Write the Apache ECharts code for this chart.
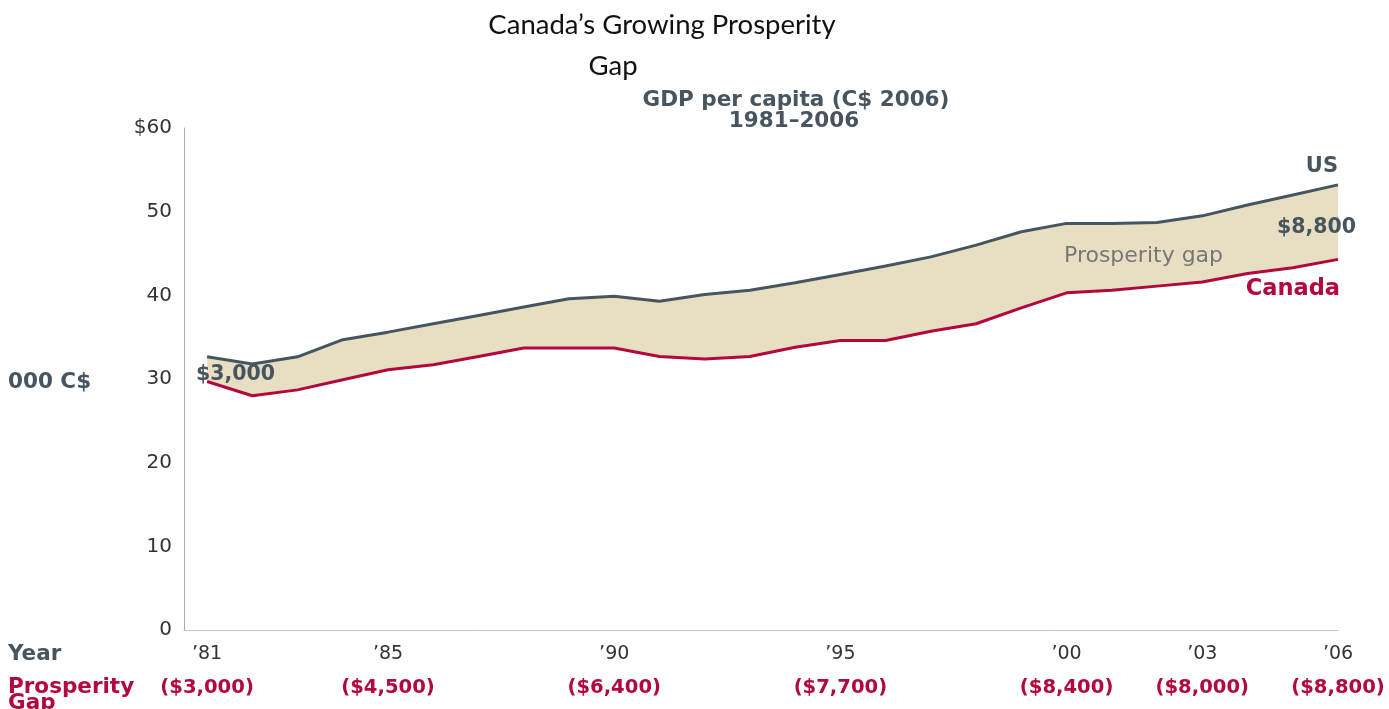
<!DOCTYPE html>
<html>
<head>
<meta charset="utf-8">
<script src="https://cdn.jsdelivr.net/npm/echarts@6/dist/echarts.min.js"></script>
<style>html,body{margin:0;padding:0;background:#fff}#c{width:1389px;height:709px}</style>
</head>
<body>
<div id="c"></div>
<script>
const years = [1981,1982,1983,1984,1985,1986,1987,1988,1989,1990,1991,1992,1993,1994,1995,1996,1997,1998,1999,2000,2001,2002,2003,2004,2005,2006];
const usGdp = [32.65,31.8,32.65,34.7,35.6,36.6,37.6,38.6,39.6,39.9,39.3,40.1,40.6,41.5,42.5,43.5,44.6,46.0,47.6,48.6,48.6,48.7,49.5,50.8,52.0,53.2];
const canadaGdp = [29.7,28.0,28.7,29.9,31.1,31.7,32.7,33.7,33.7,33.7,32.7,32.4,32.7,33.8,34.6,34.6,35.7,36.6,38.5,40.3,40.6,41.1,41.6,42.6,43.3,44.3];
const labelYears = [1981,1985,1990,1995,2000,2003,2006];
const yearTickLabels = ['\u201981','\u201985','\u201990','\u201995','\u201900','\u201903','\u201906'];
const gapTickLabels = ['($3,000)','($4,500)','($6,400)','($7,700)','($8,400)','($8,000)','($8,800)'];

const usData = years.map((y,i)=>[y, usGdp[i]]);
const caData = years.map((y,i)=>[y, canadaGdp[i]]);
const slate = '#46555f', crimson = '#b3083c', beige = '#e8dfc3';
const F = '"DejaVu Sans", Verdana, sans-serif';
const T = 'Lato, "Open Sans", sans-serif';
const lab = (arr)=> v => { const r = Math.round(v); const k = labelYears.indexOf(r); return k>=0 && Math.abs(v-r)<1e-6 ? arr[k] : ''; };

const chart = echarts.init(document.getElementById('c'));
chart.setOption({
  animation:false,
  grid:{left:184,right:51,top:128,bottom:79,containLabel:false},
  title:[
    {text:'Canada\u2019s Growing Prosperity',left:657,top:6,textAlign:'center',textStyle:{fontFamily:T,fontWeight:'normal',fontSize:27.5,color:'#111'}},
    {text:'Gap',left:608,top:47,textAlign:'center',textStyle:{fontFamily:T,fontWeight:'normal',fontSize:27.5,color:'#111'}},
    {text:'GDP per capita (C$ 2006)',left:791,top:84,textAlign:'center',textStyle:{fontFamily:F,fontWeight:'bold',fontSize:21.5,color:slate}},
    {text:'1981\u20132006',left:789,top:105,textAlign:'center',textStyle:{fontFamily:F,fontWeight:'bold',fontSize:21.5,color:slate}}
  ],
  xAxis:[
    {type:'value',min:1980.49,max:2006,z:10,
     axisLine:{show:true,lineStyle:{color:'#c4c4c4',width:1}},axisTick:{show:false},splitLine:{show:false},
     axisLabel:{customValues:labelYears,margin:15,fontFamily:F,fontSize:19,color:'#333',formatter:lab(yearTickLabels)}},
    {type:'value',min:1980.49,max:2006,position:'bottom',offset:33,
     axisLine:{show:false},axisTick:{show:false},splitLine:{show:false},
     axisLabel:{customValues:labelYears,margin:15,fontFamily:F,fontSize:19.6,fontWeight:'bold',color:crimson,formatter:lab(gapTickLabels)}}
  ],
  yAxis:{type:'value',min:0,max:60,interval:10,z:10,
    axisLine:{show:true,lineStyle:{color:'#aaa',width:1}},axisTick:{show:false},splitLine:{show:false},
    axisLabel:{margin:12,fontFamily:F,fontSize:20,color:'#333',formatter:v=> v===60?'$60':String(v)}},
  series:[
    {name:'gapfill',type:'line',data:usData,symbol:'none',lineStyle:{width:0,opacity:0},areaStyle:{color:beige,opacity:1},silent:true,z:2},
    {name:'mask',type:'line',data:caData,symbol:'none',lineStyle:{width:0,opacity:0},areaStyle:{color:'#ffffff',opacity:1},silent:true,z:3},
    {name:'US',type:'line',data:usData,symbol:'none',lineStyle:{color:slate,width:3},z:5},
    {name:'Canada',type:'line',data:caData,symbol:'none',lineStyle:{color:crimson,width:3},z:5}
  ],
  graphic:[
    {type:'text',z:100,left:8,top:371,style:{text:'000 C$',font:'bold 21.5px '+F,fill:slate}},
    {type:'text',z:100,left:8,top:643,style:{text:'Year',font:'bold 21.5px '+F,fill:slate}},
    {type:'text',z:100,left:8,top:676,style:{text:'Prosperity\nGap',font:'bold 21.5px '+F,fill:crimson,lineHeight:16}},
    {type:'text',z:100,left:196,top:364,style:{text:'$3,000',font:'bold 20.5px '+F,fill:slate}},
    {type:'text',z:100,right:51,top:156,style:{text:'US',font:'bold 21px '+F,fill:slate}},
    {type:'text',z:100,right:33,top:217,style:{text:'$8,800',font:'bold 20.5px '+F,fill:slate}},
    {type:'text',z:100,left:1064,top:245,style:{text:'Prosperity gap',font:'22px '+F,fill:'#777'}},
    {type:'text',z:100,right:49,top:278,style:{text:'Canada',font:'bold 22.5px '+F,fill:crimson}}
  ]
});
</script>
</body>
</html>
